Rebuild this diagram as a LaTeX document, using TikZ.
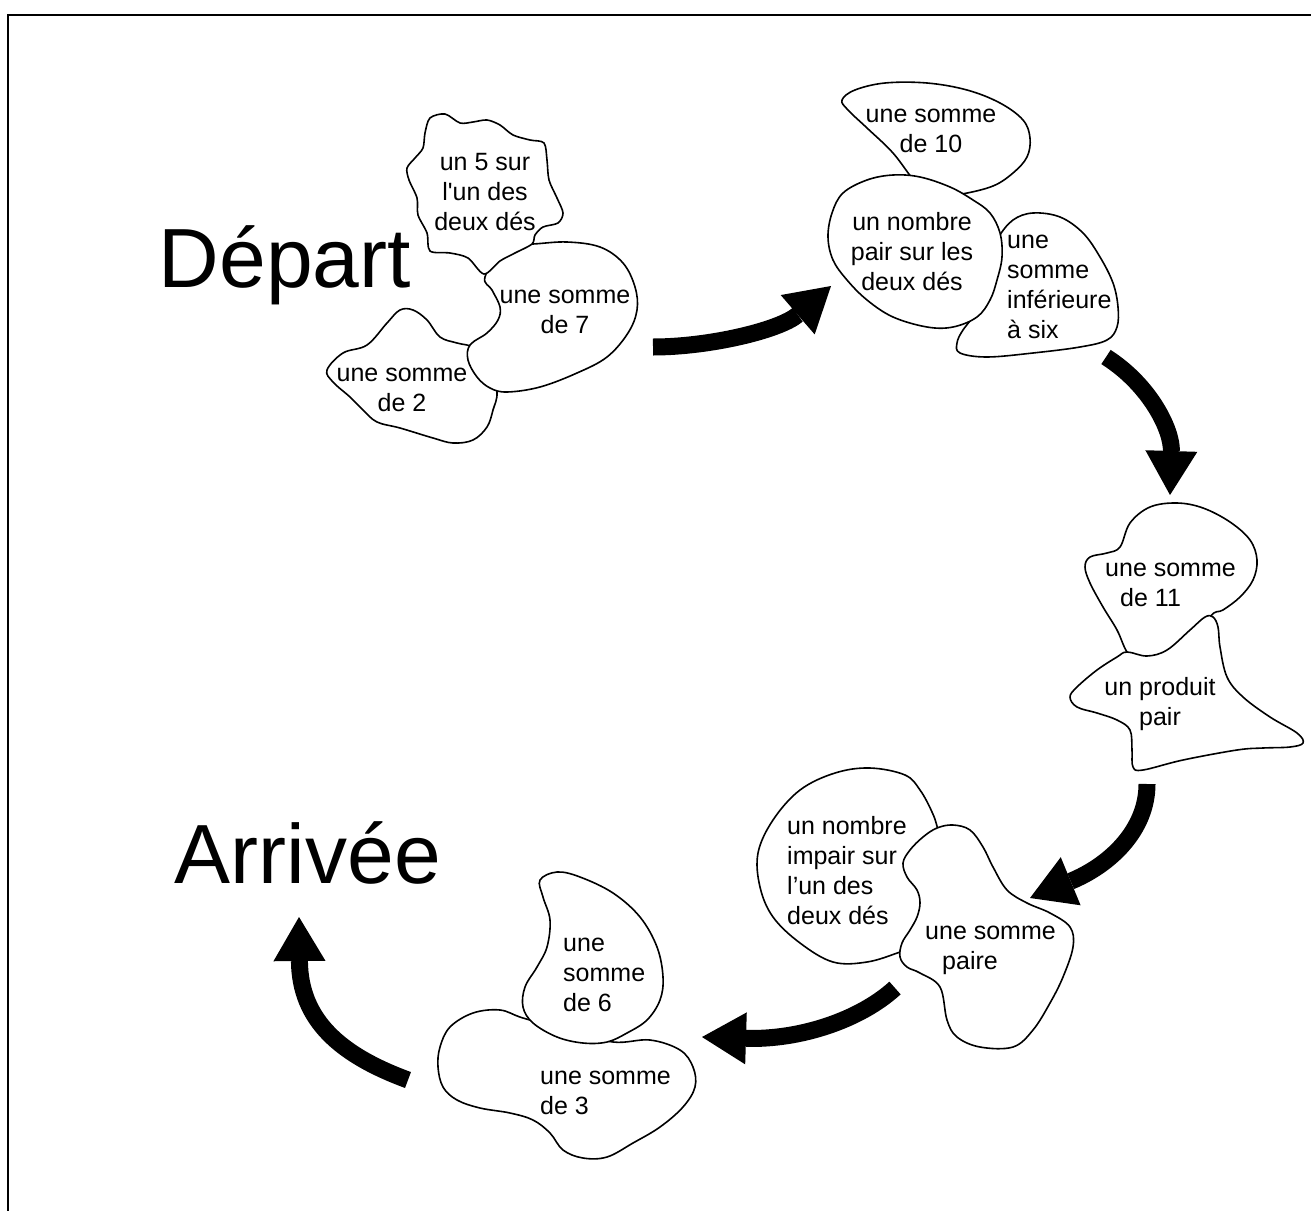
\documentclass[tikz,border=0pt]{standalone}
\usepackage{fontspec}
\setmainfont{Liberation Sans}
\usetikzlibrary{arrows.meta}

\begin{document}
\begin{tikzpicture}[x=1pt, y=-1pt,
    blob/.style={draw, fill=white, line width=1.6pt, line join=round},
    lbl/.style={inner sep=0pt, font=\fontsize{25}{30}\selectfont},
    big/.style={inner sep=0pt, anchor=base, font=\fontsize{84}{90}\selectfont},
    fat/.style={line width=17pt, -{Triangle[length=44pt, width=52pt, line width=0pt]}}]
    \useasboundingbox (0,0) rectangle (1311,1210);
    % Frame
    \draw[line width=2pt] (8,1212) -- (8,14.5) -- (1313,14.5);

    % Depart group
    \draw[blob] plot[smooth cycle, tension=0.6] coordinates {(327,370) (343,353) (367,345) (387,323) (400,310) (413,310) (427,320) (440,337) (457,343) (475,348) (490,365) (497,392) (493,410) (487,427) (473,440) (453,443) (433,438) (400,428) (377,422) (363,410) (350,397) (333,382)};
    \draw[blob] plot[smooth cycle, tension=0.6] coordinates {(533,244) (567,242) (600,247) (623,263) (635,287) (637,310) (628,333) (607,357) (577,373) (540,387) (507,392) (490,388) (477,377) (468,360) (470,345) (487,333) (498,320) (500,307) (492,290) (485,277) (505,245)};
    \draw[blob] plot[smooth cycle, tension=0.5] coordinates {(430,118) (445,114) (460,123) (473,122) (487,120) (500,125) (513,135) (530,140) (544,143) (547,160) (549,180) (557,198) (563,213) (558,223) (543,227) (535,235) (532,244) (515,253) (500,261) (484,274) (468,258) (450,253) (430,251) (427,233) (418,215) (417,198) (409,180) (407,168) (415,158) (423,148) (425,133)};

    % Top right group
    \draw[blob] plot[smooth cycle, tension=0.6] coordinates {(842,100) (855,90) (885,83) (927,83) (967,90) (1000,103) (1023,120) (1030,138) (1027,157) (1013,173) (993,186) (962,194) (938,196) (918,185) (893,153) (867,128) (848,110)};
    \draw[blob] plot[smooth cycle, tension=0.6] coordinates {(998,238) (1013,220) (1033,213) (1060,217) (1083,233) (1100,257) (1113,283) (1118,307) (1117,327) (1107,340) (1080,347) (1033,353) (987,357) (960,353) (957,343) (963,330) (977,313) (987,303) (985,265)};
    \draw[blob] plot[smooth cycle, tension=0.6] coordinates {(920,177) (893,175) (867,180) (843,193) (832,213) (828,237) (833,260) (847,280) (867,300) (893,317) (927,327) (953,327) (977,317) (990,300) (997,280) (1002,257) (1000,233) (990,213) (973,200) (950,187)};

    % Right group
    \draw[blob] plot[smooth cycle, tension=0.6] coordinates {(1130,523) (1150,507) (1177,503) (1203,508) (1230,522) (1250,540) (1257,560) (1253,580) (1240,597) (1223,610) (1210,617) (1185,660) (1140,665) (1127,652) (1117,630) (1103,607) (1090,583) (1085,567) (1090,557) (1107,553) (1120,547)};
    \draw[blob] plot[smooth cycle, tension=0.6] coordinates {(1127,652) (1147,656) (1167,650) (1190,630) (1205,617) (1213,617) (1218,627) (1220,647) (1227,677) (1243,697) (1270,717) (1297,733) (1303,743) (1290,747) (1263,748) (1237,750) (1183,760) (1143,770) (1133,767) (1132,750) (1130,730) (1117,720) (1097,713) (1077,707) (1070,697) (1077,687) (1097,670) (1117,657)};

    % Bottom right group
    \draw[blob] plot[smooth cycle, tension=0.6] coordinates {(870,768) (905,775) (920,790) (932,812) (938,830) (950,880) (930,940) (900,952) (867,962) (833,962) (800,943) (773,917) (760,887) (758,853) (773,820) (800,790) (835,773)};
    \draw[blob] plot[smooth cycle, tension=0.6] coordinates {(937,828) (953,825) (970,830) (983,847) (993,867) (1007,890) (1027,903) (1050,913) (1070,927) (1073,947) (1063,977) (1050,1003) (1033,1030) (1013,1047) (980,1047) (957,1037) (947,1020) (940,987) (920,973) (907,967) (900,957) (902,943) (910,930) (917,917) (920,903) (917,890) (907,877) (903,863) (910,850) (923,837)};

    % Bottom group
    \draw[blob] plot[smooth cycle, tension=0.6] coordinates {(440,1047) (450,1027) (473,1013) (500,1010) (523,1018) (567,1030) (613,1042) (650,1040) (680,1050) (693,1067) (695,1087) (683,1107) (660,1127) (633,1143) (607,1157) (583,1158) (563,1150) (550,1133) (533,1120) (510,1113) (480,1108) (457,1100) (443,1087) (438,1067)};
    \draw[blob] plot[smooth cycle, tension=0.6] coordinates {(540,880) (557,872) (580,877) (613,893) (640,917) (657,947) (663,977) (660,1000) (647,1020) (627,1033) (607,1042) (583,1043) (557,1037) (533,1023) (523,1007) (525,987) (537,967) (547,947) (550,920) (543,897)};

    % Labels
    \node[big] (depart) at (285,287) {Départ};
    \node[big] (arrivee) at (308,883) {Arrivée};
    \node[lbl, align=center] (cinq) at (485,192) {un 5 sur\\l\textquotesingle un des\\deux dés};
    \node[lbl, align=center] (sept) at (565,312) {une somme\\de 7};
    \node[lbl, align=center] (deux) at (402,390) {une somme\\de 2};
    \node[lbl, align=center] (dix) at (931,131) {une somme\\de 10};
    \node[lbl, align=center] (pair) at (912,252) {un nombre\\pair sur les\\deux dés};
    \node[lbl, align=left, anchor=west] (infsix) at (1007,287) {une\\somme\\inférieure\\à six};
    \node[lbl, align=left, anchor=west] (onze) at (1105,585) {une somme\\\hspace*{15pt}de 11};
    \node[lbl, align=center] (produit) at (1160,704) {un produit\\pair};
    \node[lbl, align=left, anchor=west] (impair) at (787,871) {un nombre\\impair sur\\l'un des\\deux dés};
    \node[lbl, align=left, anchor=west] (paire) at (925,950) {une somme\\\hspace*{17pt}paire};
    \node[lbl, align=left, anchor=west] (six) at (563,975) {une\\somme\\de 6};
    \node[lbl, align=left, anchor=west] (trois) at (540,1093) {une somme\\de 3};

    % Arrows
    \coordinate (s1) at (653,347);  \coordinate (t1) at (831,286);
    \coordinate (s2) at (1106,357); \coordinate (t2) at (1170,495);
    \coordinate (s3) at (1147,784); \coordinate (t3) at (1030,898);
    \coordinate (s4) at (895,988);  \coordinate (t4) at (702,1037);
    \coordinate (s5) at (408,1080); \coordinate (t5) at (299,917);
    \draw[fat] (s1) .. controls +(57,0) and +(-51,44) .. (t1);
    \draw[fat] (s2) .. controls +(44,28) and +(2,-65) .. (t2);
    \draw[fat] (s3) .. controls +(0,46) and +(80,-33) .. (t3);
    \draw[fat] (s4) .. controls +(-35,32) and +(98,3) .. (t4);
    \draw[fat] (s5) .. controls +(-68,-25) and +(1,103) .. (t5);
\end{tikzpicture}
\end{document}
